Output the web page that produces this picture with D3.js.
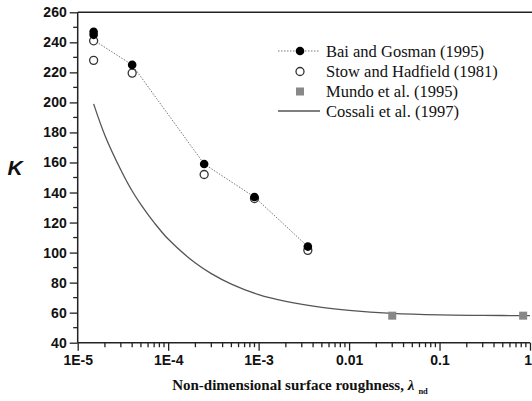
<!DOCTYPE html>
<html><head><meta charset="utf-8">
<script src="https://cdn.jsdelivr.net/npm/d3@7"></script>
<style>body{margin:0;background:#fff}svg{display:block}</style>
</head><body>
<svg id="c" width="532" height="401"></svg>
<script>
// data
const baiX = [1.5e-5, 1.5e-5, 4e-5, 2.5e-4, 9e-4, 3.5e-3];
const baiK = [247, 245, 225, 159, 137, 104];
const baiLineX = [1.5e-5, 4e-5, 2.5e-4, 9e-4, 3.5e-3];
const baiLineK = [241.5, 225, 159, 137, 104];
const stowX = [1.5e-5, 1.5e-5, 4e-5, 2.5e-4, 9e-4, 3.5e-3];
const stowK = [241, 228, 219.5, 152, 136, 101.5];
const mundoX = [0.03, 0.84];
const mundoK = [58, 58];
const cossaliX = [1.5e-5, 2e-5, 3e-5, 4e-5, 5e-5, 7e-5, 1e-4, 2e-4, 3e-4, 5e-4, 1e-3, 2e-3, 5e-3, 1e-2, 3e-2, 0.1, 0.3, 1];
const cossaliK = [199, 178, 155, 141, 132, 120, 109, 93, 86, 79, 72, 67.5, 63.5, 61.5, 59.5, 58.5, 58.2, 58];
const xTickVals = [1e-5, 1e-4, 1e-3, 1e-2, 0.1, 1];
const xTickLabels = ["1E-5", "1E-4", "1E-3", "0.01", "0.1", "1"];
const yTickVals = [40, 60, 80, 100, 120, 140, 160, 180, 200, 220, 240, 260];
const legendLabels = ["Bai and Gosman (1995)", "Stow and Hadfield (1981)", "Mundo et al. (1995)", "Cossali et al. (1997)"];

const svg = d3.select("#c");
const L = 77.7, R = 530, T = 12.3, B = 342.7;
const x = d3.scaleLog().domain([1e-5, 1]).range([L, R]);
const y = d3.scaleLinear().domain([40, 260]).range([B, T]);

// frame line (top)
svg.append("line").attr("x1", L).attr("x2", 532).attr("y1", T).attr("y2", T).attr("stroke", "#222").attr("stroke-width", 1.5);

// y axis
const yMinor = d3.range(50, 260, 20);
const yAx = svg.append("g").attr("transform", `translate(${L},0)`);
yAx.call(d3.axisLeft(y).tickValues(yTickVals).tickSize(8).tickPadding(3).tickFormat(d3.format("d")));
yAx.append("g").selectAll("line").data(yMinor).join("line")
  .attr("x1", -4.5).attr("x2", 0).attr("y1", d => y(d)).attr("y2", d => y(d)).attr("stroke", "#222").attr("stroke-width", 1.3);
yAx.select(".domain").attr("stroke", "#222").attr("stroke-width", 1.5).attr("d", `M0,${B}V${T}`);
yAx.selectAll(".tick line").attr("stroke", "#222").attr("stroke-width", 1.3);
yAx.selectAll(".tick text").attr("font-family", "Liberation Sans, Arial, sans-serif").attr("font-weight", "bold").attr("font-size", 14).attr("fill", "#111");

// x axis
const xMinor = [];
for (let e = -5; e < 0; e++) for (let m = 2; m <= 9; m++) xMinor.push(m * Math.pow(10, e));
const xAx = svg.append("g").attr("transform", `translate(0,${B})`);
xAx.call(d3.axisBottom(x).tickValues(xTickVals).tickSize(8).tickPadding(4).tickFormat((d, i) => xTickLabels[i]));
xAx.append("g").selectAll("line").data(xMinor).join("line")
  .attr("x1", d => x(d)).attr("x2", d => x(d)).attr("y1", 0).attr("y2", 4.5).attr("stroke", "#222").attr("stroke-width", 1.3);
xAx.select(".domain").attr("stroke", "#222").attr("stroke-width", 1.5).attr("d", `M${L},0H${R}`);
xAx.selectAll(".tick line").attr("stroke", "#222").attr("stroke-width", 1.3);
xAx.selectAll(".tick text").attr("font-family", "Liberation Sans, Arial, sans-serif").attr("font-weight", "bold").attr("font-size", 14).attr("fill", "#111");
xAx.selectAll(".tick text").filter((d, i) => i === xTickVals.length - 1).attr("text-anchor", "end").attr("dx", 1.5);

// axis titles
svg.append("text").attr("x", 15).attr("y", 175).attr("text-anchor", "middle")
  .attr("font-family", "Liberation Sans, Arial, sans-serif").attr("font-weight", "bold").attr("font-style", "italic")
  .attr("font-size", 21).attr("fill", "#111").text("K");
const xt = svg.append("text").attr("x", 300).attr("y", 390).attr("text-anchor", "middle")
  .attr("font-family", "Liberation Serif, Times New Roman, serif").attr("font-weight", "bold")
  .attr("font-size", 15).attr("fill", "#111");
xt.append("tspan").text("Non-dimensional surface roughness, ");
xt.append("tspan").attr("font-style", "italic").text("λ");
xt.append("tspan").attr("font-size", 8.5).attr("dx", 4).attr("dy", 4).text("nd");

// Cossali curve
const line = d3.line().x(d => x(d[0])).y(d => y(d[1])).curve(d3.curveCatmullRom);
svg.append("path").datum(d3.zip(cossaliX, cossaliK)).attr("d", line)
  .attr("fill", "none").attr("stroke", "#555").attr("stroke-width", 1.3);

// Bai dotted line
svg.append("path").datum(d3.zip(baiLineX, baiLineK)).attr("d", d3.line().x(d => x(d[0])).y(d => y(d[1])))
  .attr("fill", "none").attr("stroke", "#777").attr("stroke-width", 1).attr("stroke-dasharray", "1.5,1.5");

// Mundo squares
svg.append("g").selectAll("rect").data(d3.zip(mundoX, mundoK)).join("rect")
  .attr("x", d => x(d[0]) - 4).attr("y", d => y(d[1]) - 4).attr("width", 8).attr("height", 8).attr("fill", "#888");

// Stow open circles
svg.append("g").selectAll("circle").data(d3.zip(stowX, stowK)).join("circle")
  .attr("cx", d => x(d[0])).attr("cy", d => y(d[1])).attr("r", 4)
  .attr("fill", "#fff").attr("stroke", "#333").attr("stroke-width", 1.3);

// Bai filled circles
svg.append("g").selectAll("circle").data(d3.zip(baiX, baiK)).join("circle")
  .attr("cx", d => x(d[0])).attr("cy", d => y(d[1])).attr("r", 4.3).attr("fill", "#000");

// legend
const lg = svg.append("g");
const ly = [51, 71.5, 91.5, 111];
lg.selectAll("text").data(legendLabels).join("text")
  .attr("x", 326).attr("y", (d, i) => ly[i] + 5.5).attr("font-family", "Liberation Serif, Times New Roman, serif")
  .attr("font-size", 16.5).attr("fill", "#111").text(d => d);
lg.append("line").attr("x1", 278).attr("x2", 320).attr("y1", ly[0]).attr("y2", ly[0])
  .attr("stroke", "#777").attr("stroke-width", 1).attr("stroke-dasharray", "1.5,1.5");
lg.append("circle").attr("cx", 300).attr("cy", ly[0]).attr("r", 4.3).attr("fill", "#000");
lg.append("circle").attr("cx", 300).attr("cy", ly[1]).attr("r", 4).attr("fill", "#fff").attr("stroke", "#333").attr("stroke-width", 1.3);
lg.append("rect").attr("x", 296).attr("y", ly[2] - 4).attr("width", 8).attr("height", 8).attr("fill", "#888");
lg.append("line").attr("x1", 278).attr("x2", 320).attr("y1", ly[3]).attr("y2", ly[3]).attr("stroke", "#555").attr("stroke-width", 1.3);
</script>
</body></html>
